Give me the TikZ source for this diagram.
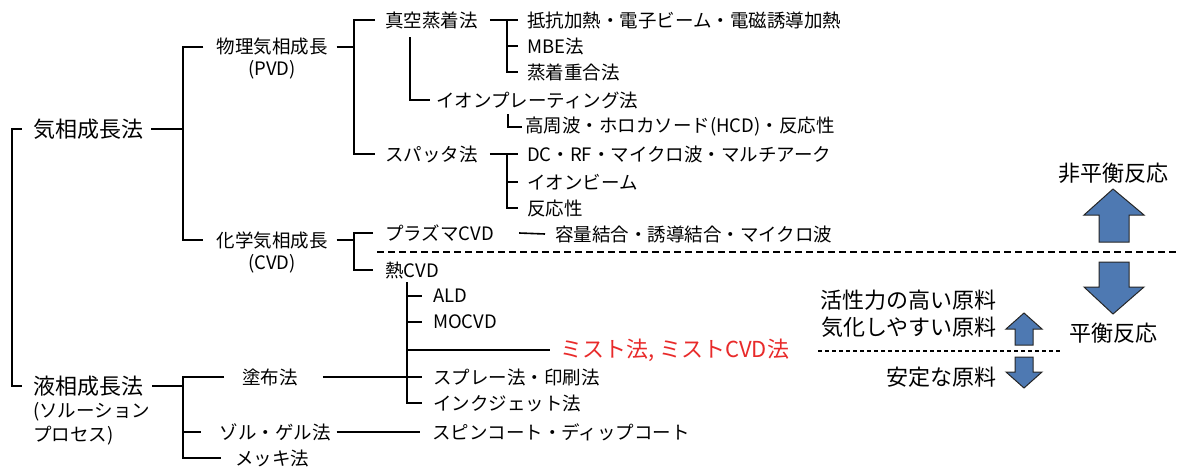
\documentclass[tikz,border=0pt]{standalone}
\usepackage{fontspec}
\setmainfont{Noto Sans CJK JP}
\definecolor{arrowblue}{RGB}{78,121,178}
\definecolor{mistred}{RGB}{232,42,42}
\tikzset{
  ln/.style={line width=1.6pt},
  t/.style={font=\fontsize{18.5}{22}\selectfont, inner sep=0pt, anchor=west},
  tc/.style={font=\fontsize{18.5}{22}\selectfont, inner sep=0pt, anchor=center},
  big/.style={font=\fontsize{22}{26}\selectfont, inner sep=0pt},
  bigdash/.style={line width=1.4pt, dash pattern=on 7pt off 4pt},
  smalldash/.style={line width=1.4pt, dash pattern=on 3.5pt off 3.5pt},
  barrow/.style={fill=arrowblue, draw=black!85, line width=1pt, line join=miter}
}
\begin{document}
\begin{tikzpicture}[x=1pt,y=-1pt]
\useasboundingbox (0,0) rectangle (1178,466);

% ---- level 0
\node[big,anchor=center] (gas) at (88,129) {気相成長法};
\node[big,anchor=center] (liq) at (88,386) {液相成長法};
\node[t] (liqa) at (33,412) {(ソルーション};
\node[t] (liqb) at (33,436) {プロセス)};
\coordinate (lb) at (12,250);
\draw[ln] ([xshift=-11pt]gas.west) -| (lb) |- ([xshift=-11pt]liq.west);

% ---- level 1 (gas)
\node[tc] (pvd) at (272,47) {物理気相成長};
\node[tc] (pvdb) at (272,70) {(PVD)};
\node[tc] (cvd) at (272,240) {化学気相成長};
\node[tc] (cvdb) at (272,264) {(CVD)};
\coordinate (b1) at (183,129);
\draw[ln] ([xshift=8pt]gas.east) -- (gas.east -| b1);
\draw[ln] ([xshift=-13pt]pvd.west) -| (b1) |- ([xshift=-13pt]cvd.west);

% ---- PVD
\node[t] (vac) at (385,20) {真空蒸着法};
\node[t] (spt) at (385,154) {スパッタ法};
\coordinate (b2) at (354,47);
\draw[ln] ([xshift=9pt]pvd.east) -- (pvd.east -| b2);
\draw[ln] ([xshift=-10pt]vac.west) -| (b2) |- ([xshift=-10pt]spt.west);

\node[t] (res) at (527,20) {抵抗加熱・電子ビーム・電磁誘導加熱};
\node[t] (mbe) at (527,46) {MBE法};
\node[t] (pol) at (527,72) {蒸着重合法};
\coordinate (b3) at (507,20);
\draw[ln] ([xshift=12pt]vac.east) -- ([xshift=-9pt]res.west);
\draw[ln] (b3) |- ([xshift=-9pt]pol.west);
\draw[ln] (b3|-mbe) -- ([xshift=-9pt]mbe.west);

\node[t] (ion) at (436,100) {イオンプレーティング法};
\coordinate (b4) at (410,37);
\draw[ln] (b4) |- ([xshift=-6pt]ion.west);

\node[t] (hcd) at (525,127) {高周波・ホロカソード(HCD)・反応性};
\coordinate (b5) at (508,114);
\draw[ln] (b5) |- ([xshift=-3pt]hcd.west);

\node[t] (dc) at (527,154) {DC・RF・マイクロ波・マルチアーク};
\node[t] (ib) at (527,182) {イオンビーム};
\node[t] (rx) at (527,208) {反応性};
\coordinate (b6) at (507,154);
\draw[ln] ([xshift=12pt]spt.east) -- ([xshift=-9pt]dc.west);
\draw[ln] (b6) |- ([xshift=-9pt]rx.west);
\draw[ln] (b6|-ib) -- ([xshift=-9pt]ib.west);

% ---- CVD
\node[t] (pl) at (385,233) {プラズマCVD};
\node[t] (th) at (385,270) {熱CVD};
\coordinate (b7) at (354,240);
\draw[ln] ([xshift=9pt]cvd.east) -- (cvd.east -| b7);
\draw[ln] ([xshift=-12pt]pl.west) -| (b7) |- ([xshift=-12pt]th.west);

\node[t] (cap) at (555,234) {容量結合・誘導結合・マイクロ波};
\draw[ln] ([xshift=25pt]pl.east) -- ([xshift=-10pt]cap.west);

\coordinate (dl1) at (377,252);
\coordinate (dl2) at (1178,252);
\draw[bigdash] (dl1) -- (dl2);

\node[t] (ald) at (433,296) {ALD};
\node[t] (mo) at (433,322) {MOCVD};
\node[big,anchor=west,text=mistred] (mist) at (560,350) {ミスト法, ミストCVD法};
\node[t] (spr) at (433,377) {スプレー法・印刷法};
\node[t] (ink) at (433,403) {インクジェット法};
\coordinate (b8) at (407,282);
\draw[ln] (b8) |- ([xshift=-11pt]ink.west);
\draw[ln] (b8|-ald) -- ([xshift=-11pt]ald.west);
\draw[ln] (b8|-mo) -- ([xshift=-11pt]mo.west);
\draw[ln] (b8|-mist) -- ([xshift=-10pt]mist.west);

% ---- liquid
\node[tc] (tofu) at (270,377) {塗布法};
\node[tc] (sol) at (275,432) {ゾル・ゲル法};
\node[tc] (mek) at (272,458) {メッキ法};
\coordinate (b9) at (183,386);
\draw[ln] ([xshift=9pt]liq.east) -- (liq.east -| b9);
\draw[ln] ([xshift=-18pt]tofu.west) -| (b9) |- ([xshift=-14pt]mek.west);
\draw[ln] (b9|-sol) -- ([xshift=-18pt]sol.west);
\draw[ln] ([xshift=25pt]tofu.east) -- ([xshift=-11pt]spr.west);

\node[t] (spin) at (432,432) {スピンコート・ディップコート};
\draw[ln] ([xshift=6pt]sol.east) -- ([xshift=-12pt]spin.west);

% ---- right side
\node[big,anchor=center] (neq) at (1113,173) {非平衡反応};
\node[big,anchor=center] (eq) at (1113,333) {平衡反応};
\draw[barrow] (1113,189) -- (1144,215) -- (1129,215) -- (1129,242) -- (1099,242) -- (1099,215) -- (1084,215) -- cycle;
\draw[barrow] (1099,262) -- (1129,262) -- (1129,287) -- (1144,287) -- (1113,314) -- (1084,287) -- (1099,287) -- cycle;

\node[big,anchor=east] (act) at (997,300) {活性力の高い原料};
\node[big,anchor=east] (vap) at (997,327) {気化しやすい原料};
\node[big,anchor=east] (stb) at (997,377) {安定な原料};
\coordinate (sd1) at (818,351);
\coordinate (sd2) at (1062,351);
\draw[smalldash] (sd1) -- (sd2);
\draw[barrow] (1024,313) -- (1042,329) -- (1033,329) -- (1033,345) -- (1015,345) -- (1015,329) -- (1006,329) -- cycle;
\draw[barrow] (1015,357) -- (1033,357) -- (1033,372) -- (1042,372) -- (1024,388) -- (1006,372) -- (1015,372) -- cycle;
\end{tikzpicture}
\end{document}
